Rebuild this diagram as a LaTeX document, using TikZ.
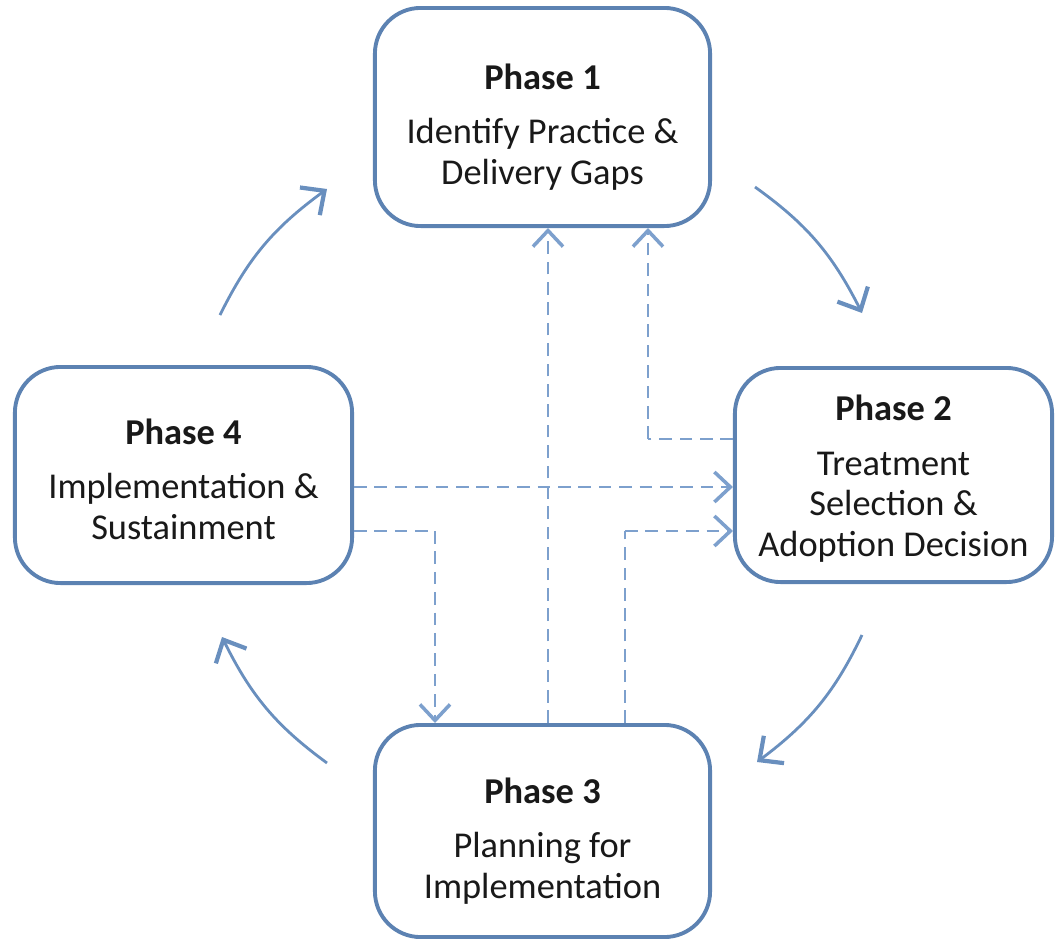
\documentclass[tikz,border=0pt]{standalone}
\usepackage{fontspec}
\setmainfont{Carlito}
\usetikzlibrary{arrows.meta,bending}
\definecolor{bordc}{RGB}{92,130,178}
\definecolor{dashc}{RGB}{125,160,205}
\definecolor{curvc}{RGB}{105,143,190}
\definecolor{txtc}{RGB}{25,25,25}
\tikzset{
  phasebox/.style={draw=bordc, line width=1.1pt, rounded corners=13pt, fill=white,
    align=center, text=txtc, font=\fontsize{10.35}{11.6}\selectfont, inner sep=0pt},
  phasetext/.style={align=center, text=txtc, font=\fontsize{10.35}{11.6}\selectfont},
  dsh/.style={draw=dashc, line width=0.75pt, dash pattern=on 3.6pt off 2.2pt,
    -{Straight Barb[length=1.6mm,width=3mm,line width=1pt]}},
  dshline/.style={draw=dashc, line width=0.75pt, dash pattern=on 3.6pt off 2.2pt},
  cyc/.style={draw=curvc, line width=0.8pt,
    -{Straight Barb[length=1.8mm,width=3.4mm,line width=1.2pt]}}
}
\begin{document}
\begin{tikzpicture}[x=0.01cm,y=-0.01cm]
\useasboundingbox (0,0) rectangle (1057,939);
\node[phasebox, minimum width=3.35cm, minimum height=2.18cm] (p1) at (542.5,117) {};
\node[phasebox, minimum width=3.17cm, minimum height=2.14cm] (p2) at (893.5,475) {};
\node[phasebox, minimum width=3.37cm, minimum height=2.16cm] (p4) at (183.5,475) {};
\node[phasebox, minimum width=3.35cm, minimum height=2.12cm] (p3) at (542.5,831) {};
\node[phasetext] (t1) at (542.5,127)
  {\textbf{Phase 1}\\[3.8pt]Identify Practice \&\\Delivery Gaps};
\node[phasetext] (t2) at (893.5,479)
  {\textbf{Phase 2}\\[3.8pt]Treatment\\Selection \&\\Adoption Decision};
\node[phasetext] (t4) at (183.5,479)
  {\textbf{Phase 4}\\[3.8pt]Implementation \&\\Sustainment};
\node[phasetext] (t3) at (542.5,841)
  {\textbf{Phase 3}\\[3.8pt]Planning for\\Implementation};
% dashed connectors
\draw[dsh] (p3.north -| 548,0) -- (p1.south -| 548,0);
\draw[dshline] (p2.west |- 0,439) -- (648,439);
\draw[dsh] (648,439) -- (p1.south -| 648,0);
\draw[dsh] (p4.east |- 0,487) -- (p2.west |- 0,487);
\draw[dshline] (p4.east |- 0,531) -- (435,531);
\draw[dsh] (435,531) -- (p3.north -| 435,0);
\draw[dshline] (p3.north -| 625,0) -- (625,531);
\draw[dsh] (625,531) -- (p2.west |- 0,531);
% cycle arrows
\coordinate (a1s) at (220,315); \coordinate (a1e) at (327,189);
\coordinate (a2s) at (755,187); \coordinate (a2e) at (862,313);
\coordinate (a3s) at (862,635); \coordinate (a3e) at (757,762);
\coordinate (a4s) at (327,763); \coordinate (a4e) at (222,637);
\draw[cyc] (a1s) to[bend left=14] (a1e);
\draw[cyc] (a2s) to[bend left=14] (a2e);
\draw[cyc] (a3s) to[bend left=14] (a3e);
\draw[cyc] (a4s) to[bend left=14] (a4e);
\end{tikzpicture}
\end{document}
